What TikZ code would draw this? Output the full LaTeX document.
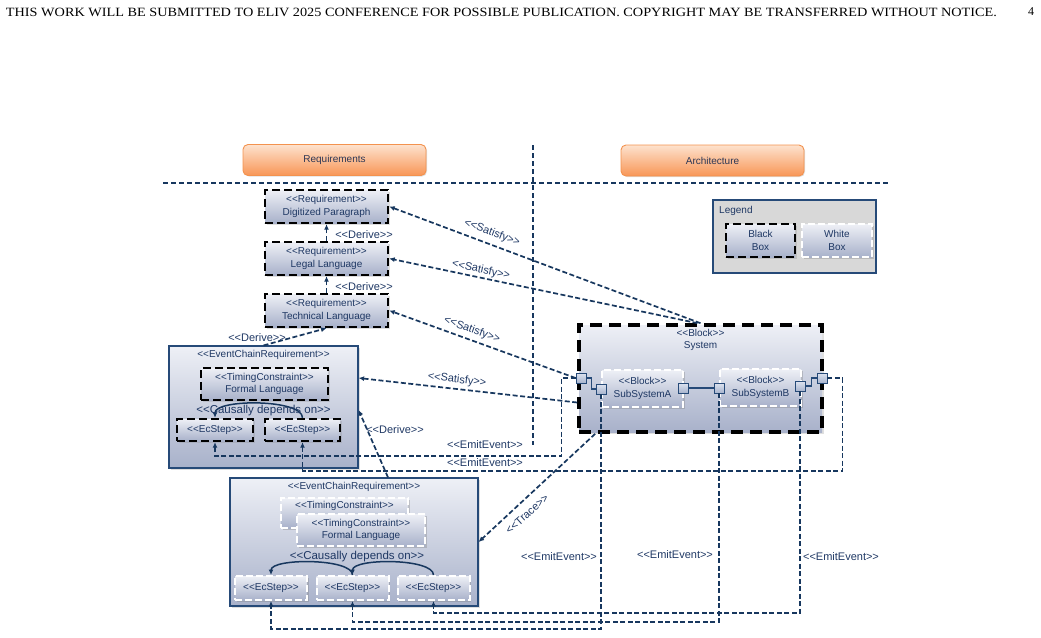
\documentclass[tikz,border=0pt]{standalone}
\usepackage{fontspec}
\setmainfont{Liberation Sans}
\newfontfamily\headfont{Liberation Serif}
\usepackage{graphicx}
\usetikzlibrary{positioning, calc, arrows.meta, shadows}

\definecolor{linkblue}{RGB}{23,55,94}
\definecolor{inkblue}{RGB}{31,56,100}
\definecolor{frameblue}{RGB}{38,74,120}
\definecolor{boxtop}{RGB}{238,240,246}
\definecolor{boxbottom}{RGB}{168,177,202}
\definecolor{porttop}{RGB}{222,228,240}
\definecolor{portbottom}{RGB}{168,180,206}
\definecolor{lanetop}{RGB}{253,226,206}
\definecolor{lanebottom}{RGB}{248,150,86}
\definecolor{laneline}{RGB}{243,146,78}
\definecolor{lanetext}{RGB}{45,55,85}
\definecolor{legendgray}{RGB}{216,216,216}

% stereotype text, written so that << and >> stay two signs
\newcommand{\stype}[1]{<{}<#1>{}>}

\begin{document}
\begin{tikzpicture}[x=1pt, y=-1pt,
    every node/.style={text=inkblue, align=center, font=\fontsize{10}{12.5}\selectfont},
    lane/.style={draw=laneline, line width=0.9pt, rounded corners=5pt,
        top color=lanetop, bottom color=lanebottom, text=lanetext,
        minimum width=183pt, minimum height=31pt,
        drop shadow={shadow xshift=1pt, shadow yshift=-1pt, opacity=0.25}},
    blackbox/.style={draw=black, line width=2.4pt, dash pattern=on 8pt off 4pt,
        top color=boxtop, bottom color=boxbottom, inner sep=1pt,
        drop shadow={shadow xshift=1.5pt, shadow yshift=-1.5pt, opacity=0.25}},
    whitebox/.style={draw=white, line width=2pt, dash pattern=on 7pt off 3pt,
        top color=boxtop, bottom color=boxbottom, inner sep=1pt,
        drop shadow={shadow xshift=1.5pt, shadow yshift=-1.5pt, opacity=0.35}},
    chainbox/.style={draw=frameblue, line width=1.2pt,
        top color=boxtop, bottom color=boxbottom,
        drop shadow={shadow xshift=1.5pt, shadow yshift=-1.5pt, opacity=0.25}},
    port/.style={draw=frameblue, line width=0.9pt, top color=porttop,
        bottom color=portbottom, minimum size=10pt, inner sep=0pt},
    portline/.style={draw=frameblue, line width=1.1pt},
    link/.style={draw=linkblue, line width=1.7pt, dash pattern=on 5pt off 2.5pt},
    arrowed/.style={-{Latex[length=5.5pt, width=5pt]}},
    causal/.style={draw=linkblue, line width=1.5pt, -{Latex[length=5.5pt, width=5pt]}},
    tag/.style={font=\fontsize{11}{13}\selectfont, inner sep=1pt},
]
    \useasboundingbox (0,0) rectangle (1041,637);

    % Running head of the page
    \node[text=black, font=\headfont\fontsize{12}{14}\selectfont] (runhead) at (501.5,12)
        {\resizebox{991pt}{8.4pt}{THIS WORK WILL BE SUBMITTED TO ELIV 2025 CONFERENCE FOR POSSIBLE PUBLICATION. COPYRIGHT MAY BE TRANSFERRED WITHOUT NOTICE.}};
    \node[text=black, font=\headfont\fontsize{12}{14}\selectfont] (pagenum) at (1031,12) {4};

    % Swim lane headers
    \node[lane] (reqlane) at (334.5,160) {Requirements};
    \node[lane] (archlane) at (712.5,160.5) {Architecture};

    % Lane separators
    \coordinate (sepwest) at (163,183);
    \coordinate (sepeast) at (889,183);
    \coordinate (midtop) at (533,145);
    \coordinate (midbot) at (533,445);
    \draw[draw=linkblue, line width=1.2pt, dash pattern=on 5pt off 3pt] (sepwest) -- (sepeast);
    \draw[draw=linkblue, line width=1.2pt, dash pattern=on 5pt off 3pt] (midtop) -- (midbot);

    % Legend
    \node[draw=frameblue, line width=1.4pt, fill=legendgray,
          minimum width=163pt, minimum height=73pt] (legend) at (794.5,236.5) {};
    \node[anchor=west, inner sep=0pt] (legendtitle) at (719,210.5) {Legend};
    \node[blackbox, minimum width=69pt, minimum height=33pt] (legblack) at (760.5,240.5) {Black\\Box};
    \node[whitebox, minimum width=70pt, minimum height=33pt] (legwhite) at (837,240.5) {White\\Box};

    % Requirement chain
    \node[blackbox, minimum width=123pt, minimum height=33pt] (r1) at (326.5,206.5)
        {\stype{Requirement}\\Digitized Paragraph};
    \node[blackbox, minimum width=123pt, minimum height=33pt] (r2) at (326.5,258.5)
        {\stype{Requirement}\\Legal Language};
    \node[blackbox, minimum width=123pt, minimum height=33pt] (r3) at (326.5,310.5)
        {\stype{Requirement}\\Technical Language};

    % Upper event chain requirement
    \node[chainbox, minimum width=189pt, minimum height=122pt] (ecr1) at (263.5,407) {};
    \node (ecr1title) at (263.5,355) {\stype{EventChainRequirement}};
    \node[blackbox, minimum width=127pt, minimum height=32pt] (tc1) at (264.5,384)
        {\stype{TimingConstraint}\\Formal Language};
    \node[blackbox, minimum width=76pt, minimum height=22pt] (stepa) at (215,430) {\stype{EcStep}};
    \node[blackbox, minimum width=75pt, minimum height=22pt] (stepb) at (302.5,430) {\stype{EcStep}};
    \draw[causal] (stepb.north) .. controls +(0,-19) and +(0,-19) .. (stepa.north);
    \node[tag, font=\fontsize{11.5}{13}\selectfont] (causal1) at (263.5,411) {\stype{Causally depends on}};

    % Lower event chain requirement
    \node[chainbox, minimum width=248pt, minimum height=128pt] (ecr2) at (354,542) {};
    \node (ecr2title) at (354,487) {\stype{EventChainRequirement}};
    \node[whitebox, minimum width=127pt, minimum height=30pt] (tc2back) at (344.5,513)
        {\stype{TimingConstraint}\\\strut};
    \node[whitebox, minimum width=128pt, minimum height=32pt] (tc2) at (361,530)
        {\stype{TimingConstraint}\\Formal Language};
    \node[whitebox, minimum width=72pt, minimum height=24pt] (step1) at (271,588) {\stype{EcStep}};
    \node[whitebox, minimum width=72pt, minimum height=24pt] (step2) at (352.5,588) {\stype{EcStep}};
    \node[whitebox, minimum width=72pt, minimum height=24pt] (step3) at (433.5,588) {\stype{EcStep}};
    \draw[causal] (step2.north) .. controls +(0,-17) and +(0,-17) .. (step1.north);
    \draw[causal] (step3.north) .. controls +(0,-17) and +(0,-17) .. (step2.north);
    \node[tag, font=\fontsize{11.5}{13}\selectfont] (causal2) at (357,557) {\stype{Causally depends on}};

    % System block with its two subsystems
    \node[draw=black, line width=3.6pt, dash pattern=on 12pt off 7pt,
          top color=boxtop, bottom color=boxbottom, minimum width=243pt, minimum height=107pt,
          drop shadow={shadow xshift=1.5pt, shadow yshift=-1.5pt, opacity=0.25}] (system) at (700.5,378.5) {};
    \node (systitle) at (700.5,340) {\stype{Block}\\System};
    \node[whitebox, minimum width=81pt, minimum height=37pt] (suba) at (642.5,388.5) {\stype{Block}\\SubSystemA};
    \node[whitebox, minimum width=81pt, minimum height=37pt] (subb) at (760.5,387.5) {\stype{Block}\\SubSystemB};

    % Ports and their wiring
    \node[port] (sysl) at (581,378) {};
    \node[port] (sysr) at (822,378) {};
    \node[port] (subal) at (601,389) {};
    \node[port] (subar) at (683,388) {};
    \node[port] (subbl) at (719,388) {};
    \node[port] (subbr) at (800,386) {};
    \draw[portline] (sysl.east) -- ++(5,0) |- (subal.west);
    \draw[portline] (subar.east) -- (subbl.west);
    \draw[portline] (subbr.east) -- ++(6,0) |- (sysr.west);

    % Derive relations
    \draw[link, arrowed] (r2.north) -- (r1.south);
    \draw[link, arrowed] (r3.north) -- (r2.south);
    \draw[link, arrowed] (ecr1.north) -- (r3.south);
    \draw[link, arrowed] ([xshift=34pt]ecr2.north) -- ([yshift=-3pt]ecr1.east);
    \node[tag] (derive1) at (364,234.5) {\stype{Derive}};
    \node[tag] (derive2) at (364,287) {\stype{Derive}};
    \node[tag] (derive3) at (257,338) {\stype{Derive}};
    \node[tag] (derive4) at (395,430) {\stype{Derive}};

    % Satisfy relations
    \draw[link, arrowed] (system.north) -- (r1.east);
    \draw[link, arrowed] ([xshift=-3pt]system.north) -- (r2.east);
    \draw[link, arrowed] (sysl.west) -- (r3.east);
    \draw[link, arrowed] ([yshift=-24pt]system.west) -- ([yshift=29pt]ecr1.east);
    \node[tag, rotate=-20.6] (satisfy1) at (492,233) {\stype{Satisfy}};
    \node[tag, rotate=-11.8] (satisfy2) at (481,270) {\stype{Satisfy}};
    \node[tag, rotate=-19.6] (satisfy3) at (472,330) {\stype{Satisfy}};
    \node[tag, rotate=-6.5] (satisfy4) at (457,380) {\stype{Satisfy}};

    % Trace relation
    \draw[link, arrowed] ([xshift=18pt]system.south west) -- (ecr2.east);
    \node[tag, rotate=41.7] (trace) at (527,514) {\stype{Trace}};

    % Emitted events
    \draw[link, arrowed] (sysl.west) -- ++(-14,0) |- ([yshift=-14pt]stepa.south) -- (stepa.south);
    \draw[link, arrowed] (sysr.east) -- ++(15,0) |- ([yshift=-29pt]stepb.south) -- (stepb.south);
    \draw[link, arrowed] (subal.south) |- ([yshift=-28pt]step1.south) -- (step1.south);
    \draw[link, arrowed] (subbl.south) |- ([yshift=-21pt]step2.south) -- (step2.south);
    \draw[link, arrowed] (subbr.south) |- ([yshift=-12pt]step3.south) -- (step3.south);
    \node[tag] (emit1) at (485,445) {\stype{EmitEvent}};
    \node[tag] (emit2) at (485,463) {\stype{EmitEvent}};
    \node[tag] (emit3) at (559,557) {\stype{EmitEvent}};
    \node[tag] (emit4) at (675,555) {\stype{EmitEvent}};
    \node[tag] (emit5) at (841,557) {\stype{EmitEvent}};

\end{tikzpicture}
\end{document}
